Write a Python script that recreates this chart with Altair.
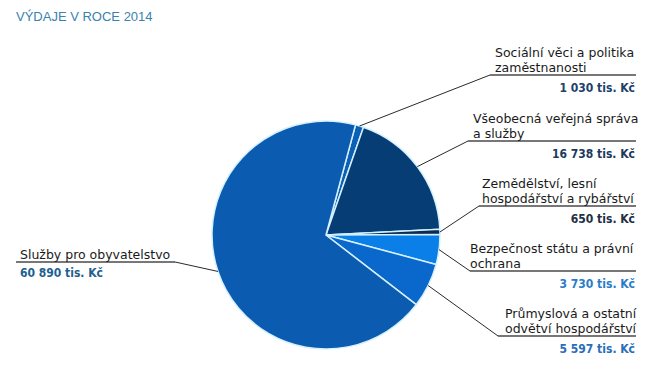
import math
import altair as alt
import pandas as pd

# ---- data ----
categories = [
    "Sociální věci a politika\nzaměstnanosti",
    "Všeobecná veřejná správa\na služby",
    "Zemědělství, lesní\nhospodářství a rybářství",
    "Bezpečnost státu a právní\nochrana",
    "Průmyslová a ostatní\nodvětví hospodářství",
    "Služby pro obyvatelstvo",
]
values = [1030, 16738, 650, 3730, 5597, 60890]  # tis. Kč
value_labels = ["1 030 tis. Kč", "16 738 tis. Kč", "650 tis. Kč",
                "3 730 tis. Kč", "5 597 tis. Kč", "60 890 tis. Kč"]

# ---- styles / layout (not data) ----
slice_colors = ["#0b5fb4", "#063d75", "#0c2b4e", "#0a7fe8", "#0a68cc", "#0b5cb0"]
value_colors = ["#1d416b", "#1c3a5e", "#1f2f45", "#2a7cc9", "#2a6db8", "#1f5f8f"]
side = ["R", "R", "R", "R", "R", "L"]
anchor_x = [482, 460, 471, 462, 490, 167]
anchor_y = [67, 133, 198, 263, 328, 254]
text_x = [487, 465, 474, 462, 497, 12]
RIGHT_X = 627
LEFT_X = 12
CX, CY, R = 318, 227, 114
START = math.radians(15)

df = pd.DataFrame({
    "idx": list(range(len(values))),
    "cat": categories,
    "value": values,
    "vlabel": value_labels,
    "scolor": slice_colors,
    "vcolor": value_colors,
    "side": side,
    "ax": anchor_x,
    "ay": anchor_y,
    "tx": text_x,
})
df["ux1"] = [a if s == "R" else 8 for a, s in zip(anchor_x, side)]
df["ux2"] = [RIGHT_X + 1 if s == "R" else a for a, s in zip(anchor_x, side)]

base = alt.Chart(df)

pie = base.mark_arc(outerRadius=R, stroke="#d4f1ff", strokeWidth=1.5).encode(
    theta=alt.Theta("value:Q", stack=True,
                    scale=alt.Scale(range=[START, START + 2 * math.pi])),
    order=alt.Order("idx:O"),
    color=alt.Color("scolor:N", scale=None),
    x=alt.value(CX), y=alt.value(CY),
)

geo = base.transform_joinaggregate(
    total="sum(value)"
).transform_window(
    cum="sum(value)", sort=[alt.SortField("idx")]
).transform_calculate(
    mid=f"(datum.cum - datum.value/2)/datum.total*2*PI + {START}",
).transform_calculate(
    ex=f"{CX} + {R}*sin(datum.mid)",
    ey=f"{CY} - {R}*cos(datum.mid)",
)

leaders = geo.mark_rule(color="#2a2a2a", strokeWidth=1).encode(
    x=alt.X("ex:Q", scale=None), y=alt.Y("ey:Q", scale=None),
    x2="ax:Q", y2="ay:Q",
)

underline = base.mark_rule(color="#777777", strokeWidth=2).encode(
    x=alt.X("ux1:Q", scale=None), x2="ux2:Q",
    y=alt.Y("ay:Q", scale=None),
)

lab = base.transform_calculate(
    parts="split(datum.cat, '\\n')"
).transform_calculate(
    last="datum.parts[length(datum.parts)-1]",
    first="length(datum.parts) > 1 ? datum.parts[0] : ''",
)

LABEL_FONT = "DejaVu Sans"
VAL_FONT = "DejaVu Sans Condensed, Liberation Sans"


def label_layer(which, dy):
    return lab.mark_text(
        align="left", baseline="middle", font=LABEL_FONT, fontSize=12.5,
        color="#1a1a1a", dy=dy,
    ).encode(x=alt.X("tx:Q", scale=None), y=alt.Y("ay:Q", scale=None),
             text=f"{which}:N")


t_last = label_layer("last", -7.5)
t_first = label_layer("first", -22.5)

r_val = base.transform_filter("datum.side == 'R'").mark_text(
    align="right", baseline="middle", font=VAL_FONT, fontSize=12,
    fontWeight="bold", dy=13,
).encode(x=alt.value(RIGHT_X), y=alt.Y("ay:Q", scale=None), text="vlabel:N",
         color=alt.Color("vcolor:N", scale=None))

l_val = base.transform_filter("datum.side == 'L'").mark_text(
    align="left", baseline="middle", font=VAL_FONT, fontSize=12,
    fontWeight="bold", dy=11,
).encode(x=alt.value(LEFT_X), y=alt.Y("ay:Q", scale=None), text="vlabel:N",
         color=alt.Color("vcolor:N", scale=None))

title = alt.Chart(pd.DataFrame({"t": ["VÝDAJE V ROCE 2014"]})).mark_text(
    align="left", baseline="middle", font="Liberation Sans", fontSize=13,
    color="#3a82b0",
).encode(x=alt.value(8), y=alt.value(9), text="t:N")

chart = alt.layer(pie, leaders, underline, t_last, t_first,
                  r_val, l_val, title).properties(
    width=634, height=351, padding=0, autosize="none",
).configure_view(stroke=None)

chart.save("out.html", embed_options={"renderer": "svg", "actions": False})
